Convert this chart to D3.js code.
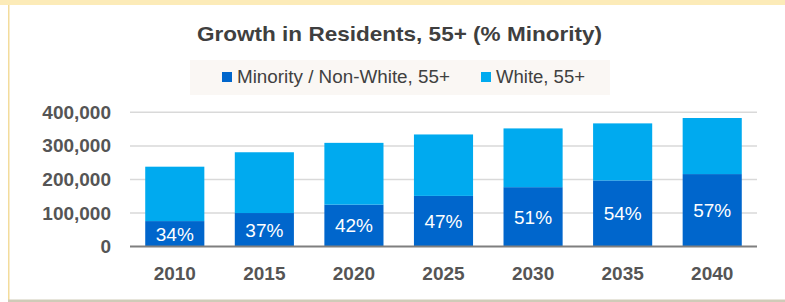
<!DOCTYPE html>
<html>
<head>
<meta charset="utf-8">
<script src="https://cdn.jsdelivr.net/npm/d3@7"></script>
<style>
  body { margin: 0; background: #fff; }
  svg text { font-family: "Liberation Sans", Arial, sans-serif; }
</style>
</head>
<body>
<div id="chart"></div>
<script>
// chart data
var years = ["2010", "2015", "2020", "2025", "2030", "2035", "2040"];
var minority = [76000, 100000, 125000, 151000, 177000, 197000, 216000];
var white = [162000, 181000, 184000, 183000, 175000, 170000, 167000];
var pctLabels = ["34%", "37%", "42%", "47%", "51%", "54%", "57%"];
var yTicks = [0, 100000, 200000, 300000, 400000];
var seriesNames = ["Minority / Non-White, 55+", "White, 55+"];

var W = 785, H = 302;
var colors = {minority: "#0066CC", white: "#00AAEF"};

var svg = d3.select("#chart").append("svg").attr("width", W).attr("height", H);

// frame
svg.append("rect").attr("x", 0).attr("y", 0).attr("width", W).attr("height", 5).attr("fill", "#FCEBB8");
svg.append("rect").attr("x", 8).attr("y", 5).attr("width", 1.5).attr("height", 295).attr("fill", "#F3DC9C");
svg.append("rect").attr("x", 8).attr("y", 299.5).attr("width", W - 8).attr("height", 2.5).attr("fill", "#CFCBB8");

var x = d3.scaleBand().domain(years).range([130, 757]).paddingInner(0.34).paddingOuter(0.17);
var y = d3.scaleLinear().domain([0, 400000]).range([246.6, 112.3]);

// gridlines
svg.append("g").selectAll("line").data(yTicks.slice(1)).join("line")
    .attr("x1", 130).attr("x2", 757)
    .attr("y1", function(d){ return y(d); }).attr("y2", function(d){ return y(d); })
    .attr("stroke", "#D9D9D9").attr("stroke-width", 1.5);

// y axis
var yAxis = svg.append("g").attr("transform", "translate(130,0)")
    .call(d3.axisLeft(y).tickValues(yTicks).tickFormat(d3.format(",")).tickSize(0).tickPadding(19));
yAxis.select(".domain").remove();
yAxis.selectAll("text").attr("font-size", 19).attr("font-weight", "bold").attr("fill", "#555")
    .attr("font-family", "'Liberation Sans', Arial, sans-serif");

// stacked bars
var rows = years.map(function(yr, i){ return {year: yr, minority: minority[i], white: white[i]}; });
var stack = d3.stack().keys(["minority", "white"])(rows);

svg.append("g").selectAll("g").data(stack).join("g")
    .attr("fill", function(d){ return colors[d.key]; })
  .selectAll("rect").data(function(d){ return d; }).join("rect")
    .attr("x", function(d){ return x(d.data.year); })
    .attr("width", x.bandwidth())
    .attr("y", function(d){ return y(d[1]); })
    .attr("height", function(d){ return y(d[0]) - y(d[1]); });

// baseline
svg.append("line").attr("x1", 130).attr("x2", 757).attr("y1", y(0)).attr("y2", y(0))
    .attr("stroke", "#7F7F7F").attr("stroke-width", 2);

// percent labels
svg.append("g").selectAll("text").data(rows).join("text")
    .attr("x", function(d){ return x(d.year) + x.bandwidth() / 2; })
    .attr("y", function(d){ return (y(0) + y(d.minority)) / 2; })
    .attr("dy", "0.36em")
    .attr("text-anchor", "middle")
    .attr("font-size", 19).attr("fill", "#fff")
    .text(function(d, i){ return pctLabels[i]; });

// x axis
var xAxis = svg.append("g").attr("transform", "translate(0," + y(0) + ")")
    .call(d3.axisBottom(x).tickSize(0).tickPadding(20));
xAxis.select(".domain").remove();
xAxis.selectAll("text").attr("font-size", 19).attr("font-weight", "bold").attr("fill", "#555")
    .attr("font-family", "'Liberation Sans', Arial, sans-serif");

// title
svg.append("text").attr("x", 399.5).attr("y", 41).attr("text-anchor", "middle")
    .attr("font-size", 21).attr("font-weight", "bold").attr("fill", "#3F3F3F")
    .attr("textLength", 405).attr("lengthAdjust", "spacingAndGlyphs")
    .text("Growth in Residents, 55+ (% Minority)");

// legend
svg.append("rect").attr("x", 190).attr("y", 60).attr("width", 420).attr("height", 35).attr("fill", "#FAF7F4");
var legendX = [222, 481];
var legendW = [213, 89];
var lg = svg.append("g").selectAll("g").data(seriesNames).join("g")
    .attr("transform", function(d, i){ return "translate(" + legendX[i] + ",72)"; });
lg.append("rect").attr("width", 10).attr("height", 10)
    .attr("fill", function(d, i){ return i === 0 ? colors.minority : colors.white; });
lg.append("text").attr("x", 15).attr("y", 11).attr("font-size", 18).attr("fill", "#404040")
    .attr("textLength", function(d, i){ return legendW[i]; }).attr("lengthAdjust", "spacingAndGlyphs")
    .text(function(d){ return d; });
</script>
</body>
</html>
